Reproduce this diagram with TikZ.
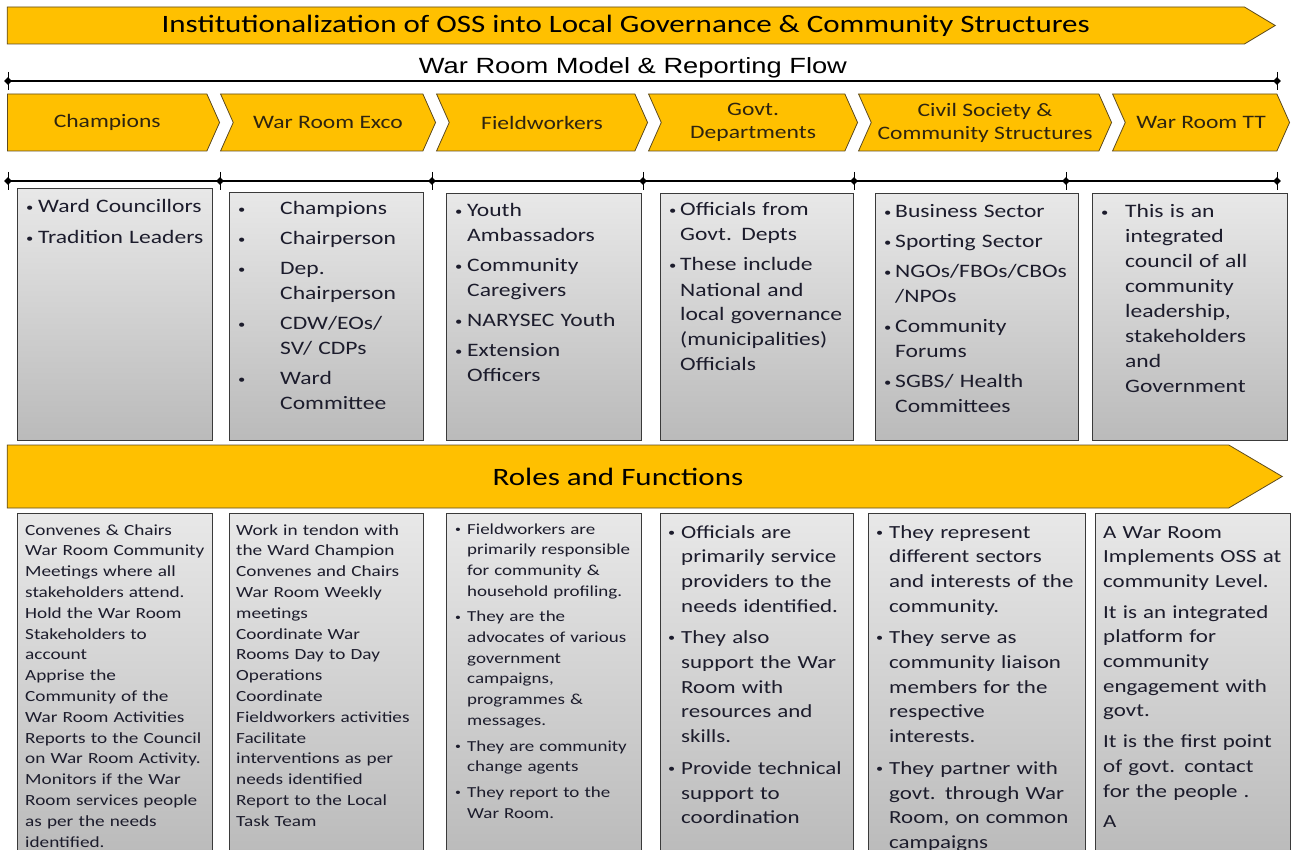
\documentclass[tikz,border=0pt]{standalone}
\usepackage{fontspec}
\usepackage{graphicx}
\setmainfont{Carlito}[FakeStretch=1.24]
\newfontfamily\arialfont{Liberation Sans}[FakeStretch=1.24]
\usetikzlibrary{shapes.symbols,shapes.geometric}
\definecolor{bandgold}{HTML}{FFC000}
\definecolor{bandedge}{HTML}{5E4B1E}
\definecolor{chevtext}{HTML}{2E2410}
\definecolor{inkc}{HTML}{1C1C2C}
\definecolor{boxedge}{HTML}{3A3A3A}
\newlength{\bw}
\newcommand{\bul}{\makebox[\bw][l]{\raisebox{0.1em}{\scalebox{0.62}{\textbullet}}}}
\newcommand{\ind}{\hspace*{\bw}}

\begin{document}
\begin{tikzpicture}[x=1pt,y=-1pt,
  band/.style={signal, signal to=east, signal from=nowhere, fill=bandgold, draw=bandedge,
    line width=0.8pt, inner sep=0pt, anchor=east},
  chev/.style={band, signal from=west, signal pointer angle=132, minimum height=57pt,
    text=chevtext, align=center, font=\fontsize{19}{23}\selectfont},
  tick/.style={diamond, fill=black, inner sep=0pt, minimum size=8pt},
  panel/.style={draw=boxedge, line width=1.2pt, top color=black!9, middle color=black!5,
    bottom color=black!27, inner sep=0pt, anchor=north west},
  paneltext/.style={anchor=base west, text width=#1, align=left, inner sep=0pt, text=inkc}]
  \useasboundingbox (0,0) rectangle (1298,850);
  \clip (0,0) rectangle (1298,850);

  % heading bands
  \node[band, signal pointer angle=62, minimum width=1268pt, minimum height=37pt,
    font=\fontsize{25}{29}\selectfont] (mainband) at (1276,25.5)
    {Institutionalization of OSS into Local Governance \& Community Structures};
  \node[font=\arialfont\fontsize{22}{26}\selectfont] (flowtitle) at (633,68)
    {War Room Model \& Reporting Flow};

  % top timeline
  \node[tick] (t0) at (8,81) {};
  \node[tick] (t1) at (1277,81) {};
  \draw[line width=1.2pt] (t0.center) -- (t1.center);
  \foreach \xx in {8,1277} \draw[line width=1pt] (\xx,72) -- (\xx,90);

  % chevrons
  \node[chev, signal from=nowhere, minimum width=212pt] (champ) at (220,122.5) {Champions};
  \node[chev, minimum width=215pt] (exco) at (436,122.5) {War Room Exco};
  \node[chev, minimum width=211pt] (field) at (648,122.5) {Fieldworkers};
  \node[chev, minimum width=209pt] (govt) at (858,122.5) {Govt.\\Departments};
  \node[chev, minimum width=253pt] (civil) at (1112,122.5) {Civil Society \&\\Community Structures};
  \node[chev, minimum width=177pt] (wrtt) at (1290,122.5) {War Room TT};

  % lower timeline
  \foreach \xx [count=\i from 0] in {8,220,432,643,854,1066,1277} {
    \node[tick] (s\i) at (\xx,181) {};
    \draw[line width=1pt] (\xx,172) -- (\xx,190);
  }
  \draw[line width=1.2pt] (s0.center) -- (s6.center);

  % member panels
  \foreach \l/\t/\r/\n in {17/188/212/u1, 229/192/423/u2, 446/193/641/u3,
      660/193/853/u4, 875/193/1078/u5, 1092/193/1287/u6}
    \node[panel, minimum width=\r pt-\l pt, minimum height=440pt-\t pt] (\n) at (\l,\t) {};

  \node[paneltext=190pt, font=\fontsize{19}{25}\selectfont] (u1t) at (26,213)
    {\setlength{\bw}{12pt}\bul Ward Councillors\\[6pt]\bul Tradition Leaders};
  \node[paneltext=190pt, font=\fontsize{19}{25}\selectfont] (u2t) at (238,215)
    {\setlength{\bw}{42pt}\bul Champions\\[5pt]\bul Chairperson\\[5pt]\bul Dep.\\\ind Chairperson\\[5pt]
     \bul CDW/EOs/\\\ind SV/ CDPs\\[5pt]\bul Ward\\\ind Committee};
  \node[paneltext=190pt, font=\fontsize{19}{25}\selectfont] (u3t) at (455,217)
    {\setlength{\bw}{12pt}\bul Youth\\\ind Ambassadors\\[5pt]\bul Community\\\ind Caregivers\\[5pt]
     \bul NARYSEC Youth\\[5pt]\bul Extension\\\ind Officers};
  \node[paneltext=190pt, font=\fontsize{19}{25}\selectfont] (u4t) at (669,216)
    {\setlength{\bw}{11pt}\bul Officials from\\\ind Govt. Depts\\[5pt]\bul These include\\\ind National and\\
     \ind local governance\\\ind (municipalities)\\\ind Officials};
  \node[paneltext=200pt, font=\fontsize{19}{25}\selectfont] (u5t) at (884,218)
    {\setlength{\bw}{11pt}\bul Business Sector\\[5pt]\bul Sporting Sector\\[5pt]\bul NGOs/FBOs/CBOs\\\ind /NPOs\\[5pt]
     \bul Community\\\ind Forums\\[5pt]\bul SGBS/ Health\\\ind Committees};
  \node[paneltext=190pt, font=\fontsize{19}{25}\selectfont] (u6t) at (1101,218)
    {\setlength{\bw}{24pt}\bul This is an\\\ind integrated\\\ind council of all\\\ind community\\
     \ind leadership,\\\ind stakeholders\\\ind and\\\ind Government};

  % roles band
  \node[band, signal pointer angle=61, minimum width=1275pt, minimum height=63pt,
    font=\fontsize{25}{29}\selectfont] (roleband) at (1283,476.5) {Roles and Functions};

  % role panels
  \foreach \l/\r/\n in {17/212/r1, 229/423/r2, 446/641/r3, 660/853/r4, 868/1085/r5, 1095/1290/r6}
    \node[panel, minimum width=\r pt-\l pt, minimum height=345pt] (\n) at (\l,513) {};

  \node[paneltext=195pt, font=\fontsize{15.5}{20.8}\selectfont] (r1t) at (25,535)
    {Convenes \& Chairs\\War Room Community\\Meetings where all\\stakeholders attend.\\
     Hold the War Room\\Stakeholders to\\account\\Apprise the\\Community of the\\
     War Room Activities\\Reports to the Council\\on War Room Activity.\\
     Monitors if the War\\Room services people\\as per the needs\\identified.};
  \node[paneltext=195pt, font=\fontsize{15.5}{20.8}\selectfont] (r2t) at (236,535)
    {Work in tendon with\\the Ward Champion\\Convenes and Chairs\\War Room Weekly\\meetings\\
     Coordinate War\\Rooms Day to Day\\Operations\\Coordinate\\Fieldworkers activities\\
     Facilitate\\interventions as per\\needs identified\\Report to the Local\\Task Team};
  \node[paneltext=200pt, font=\fontsize{15.3}{20.7}\selectfont] (r3t) at (455,534)
    {\setlength{\bw}{12pt}\bul Fieldworkers are\\\ind primarily responsible\\\ind for community \&\\
     \ind household profiling.\\[5pt]\bul They are the\\\ind advocates of various\\\ind government\\
     \ind campaigns,\\\ind programmes \&\\\ind messages.\\[5pt]\bul They are community\\
     \ind change agents\\[5pt]\bul They report to the\\\ind War Room.};
  \node[paneltext=200pt, font=\fontsize{18.5}{24.7}\selectfont] (r4t) at (668,538)
    {\setlength{\bw}{13pt}\bul Officials are\\\ind primarily service\\\ind providers to the\\
     \ind needs identified.\\[7pt]\bul They also\\\ind support the War\\\ind Room with\\
     \ind resources and\\\ind skills.\\[7pt]\bul Provide technical\\\ind support to\\\ind coordination};
  \node[paneltext=215pt, font=\fontsize{18.5}{24.7}\selectfont] (r5t) at (876,538)
    {\setlength{\bw}{13pt}\bul They represent\\\ind different sectors\\\ind and interests of the\\
     \ind community.\\[7pt]\bul They serve as\\\ind community liaison\\\ind members for the\\
     \ind respective\\\ind interests.\\[7pt]\bul They partner with\\\ind govt. through War\\
     \ind Room, on common\\\ind campaigns};
  \node[paneltext=200pt, font=\fontsize{18.5}{24.7}\selectfont] (r6t) at (1103,538)
    {A War Room\\Implements OSS at\\community Level.\\[6pt]It is an integrated\\platform for\\
     community\\engagement with\\govt.\\[6pt]It is the first point\\of govt. contact\\
     for the people .\\[6pt]A};
\end{tikzpicture}
\end{document}
